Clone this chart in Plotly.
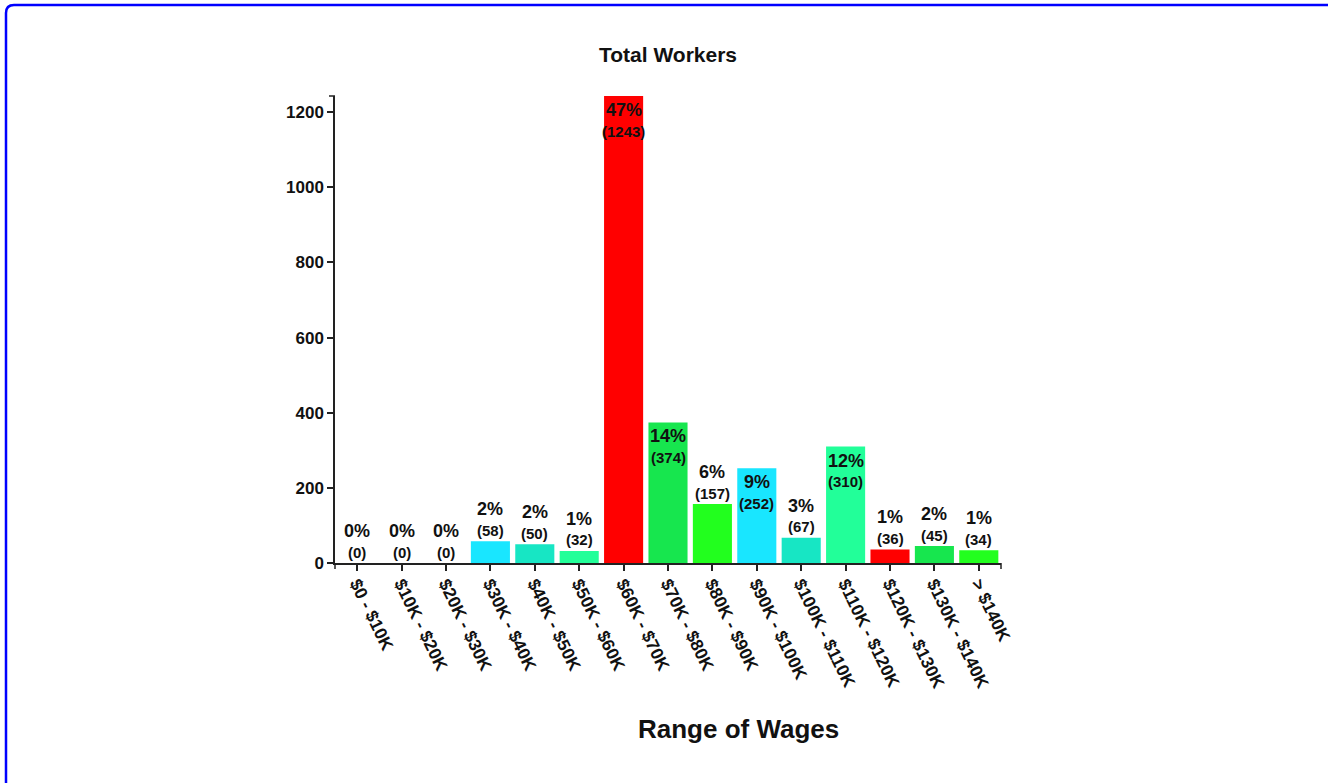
import plotly.graph_objects as go

# ---- data ----
categories = ["$0 - $10K", "$10K - $20K", "$20K - $30K", "$30K - $40K", "$40K - $50K",
              "$50K - $60K", "$60K - $70K", "$70K - $80K", "$80K - $90K", "$90K - $100K",
              "$100K - $110K", "$110K - $120K", "$120K - $130K", "$130K - $140K", "> $140K"]
workers = [0, 0, 0, 58, 50, 32, 1243, 374, 157, 252, 67, 310, 36, 45, 34]
y_ticks = [0, 200, 400, 600, 800, 1000, 1200]

palette = ["#FF0000", "#17E64E", "#22FF1E", "#19E6FF", "#17E6C4", "#22FF99"]
colors = [palette[i % len(palette)] for i in range(len(categories))]

total = sum(workers)
pcts = [round(100 * v / total) for v in workers]

W, H = 1328, 783
L, R, T, B = 335, 1001, 96, 563   # plot area in pixels

FONT = "Liberation Sans, Arial, Helvetica, sans-serif"

fig = go.Figure(go.Bar(
    x=categories, y=workers, marker=dict(color=colors, line=dict(width=0)),
    hoverinfo="x+y",
))

annotations = []
ymax = max(workers)
for c, v, p in zip(categories, workers, pcts):
    inside = v > 200
    if inside:
        s_pct, s_cnt = -14, -35
    else:
        s_pct, s_cnt = 32, 11
    annotations.append(dict(x=c, y=v, xref="x", yref="y", text=f"<b>{p}%</b>",
                            showarrow=False, yanchor="middle", yshift=s_pct,
                            font=dict(size=18, color="#111", family=FONT)))
    annotations.append(dict(x=c, y=v, xref="x", yref="y", text=f"<b>({v})</b>",
                            showarrow=False, yanchor="middle", yshift=s_cnt,
                            font=dict(size=15, color="#111", family=FONT)))

def px(x):
    return (x - L) / (R - L)

def py(y):
    return (B - y) / (B - T)

annotations.append(dict(x=px(738), y=py(729), xref="paper", yref="paper",
                        text="<b>Range of Wages</b>", showarrow=False,
                        xanchor="center", yanchor="middle",
                        font=dict(size=26, color="#111", family=FONT)))

shapes = []
axis_line = dict(color="#222", width=1.5)
# outer ticks of the axis domains
shapes.append(dict(type="line", xref="paper", yref="paper", x0=px(L - 6), x1=0, y0=1, y1=1, line=axis_line))
shapes.append(dict(type="line", xref="paper", yref="paper", x0=px(L - 6), x1=0, y0=0, y1=0, line=axis_line))
shapes.append(dict(type="line", xref="paper", yref="paper", x0=0, x1=0, y0=0, y1=py(B + 6), line=axis_line))
shapes.append(dict(type="line", xref="paper", yref="paper", x0=1, x1=1, y0=0, y1=py(B + 6), line=axis_line))

# blue page border with rounded top-left corner (right/bottom run off the page)
bx0, by0, bx1, by1, rad = 6, 5, 1330, 786, 8
path = (f"M {px(bx0)},{py(by1)} L {px(bx0)},{py(by0 + rad)} "
        f"Q {px(bx0)},{py(by0)} {px(bx0 + rad)},{py(by0)} "
        f"L {px(bx1)},{py(by0)} L {px(bx1)},{py(by1)} Z")
shapes.append(dict(type="path", xref="paper", yref="paper", path=path,
                   line=dict(color="#0000FF", width=2.5), fillcolor="rgba(0,0,0,0)"))

fig.update_layout(
    width=W, height=H,
    margin=dict(l=L, r=W - R, t=T, b=H - B, pad=0),
    paper_bgcolor="white", plot_bgcolor="white",
    bargap=0.12,
    showlegend=False,
    title=dict(text="<b>Total Workers</b>", x=668 / W, xref="container", xanchor="center",
               y=1 - 55 / H, yref="container", yanchor="middle",
               font=dict(size=21, color="#111", family=FONT)),
    font=dict(family=FONT, color="#111"),
    annotations=annotations,
    shapes=shapes,
)

fig.update_xaxes(
    type="category", showline=True, linecolor="#222", linewidth=1.5,
    ticks="outside", ticklen=6, tickwidth=1.5, tickcolor="#222",
    tickangle=64, showgrid=False, zeroline=False, ticklabelstandoff=-4,
    tickfont=dict(size=17.5, family=FONT, color="#111"),
    tickprefix="<b>", ticksuffix="</b>",
)
fig.update_yaxes(
    range=[0, ymax], showline=True, linecolor="#222", linewidth=1.5,
    ticks="outside", ticklen=6, tickwidth=1.5, tickcolor="#222",
    tickvals=y_ticks, ticktext=[f"<b>{t}</b>" for t in y_ticks],
    showgrid=False, zeroline=False,
    tickfont=dict(size=17, family=FONT, color="#111"),
)

fig.write_html("out.html", config={"displayModeBar": False},
               post_script="document.body.style.margin='0';document.body.style.overflow='hidden';")
